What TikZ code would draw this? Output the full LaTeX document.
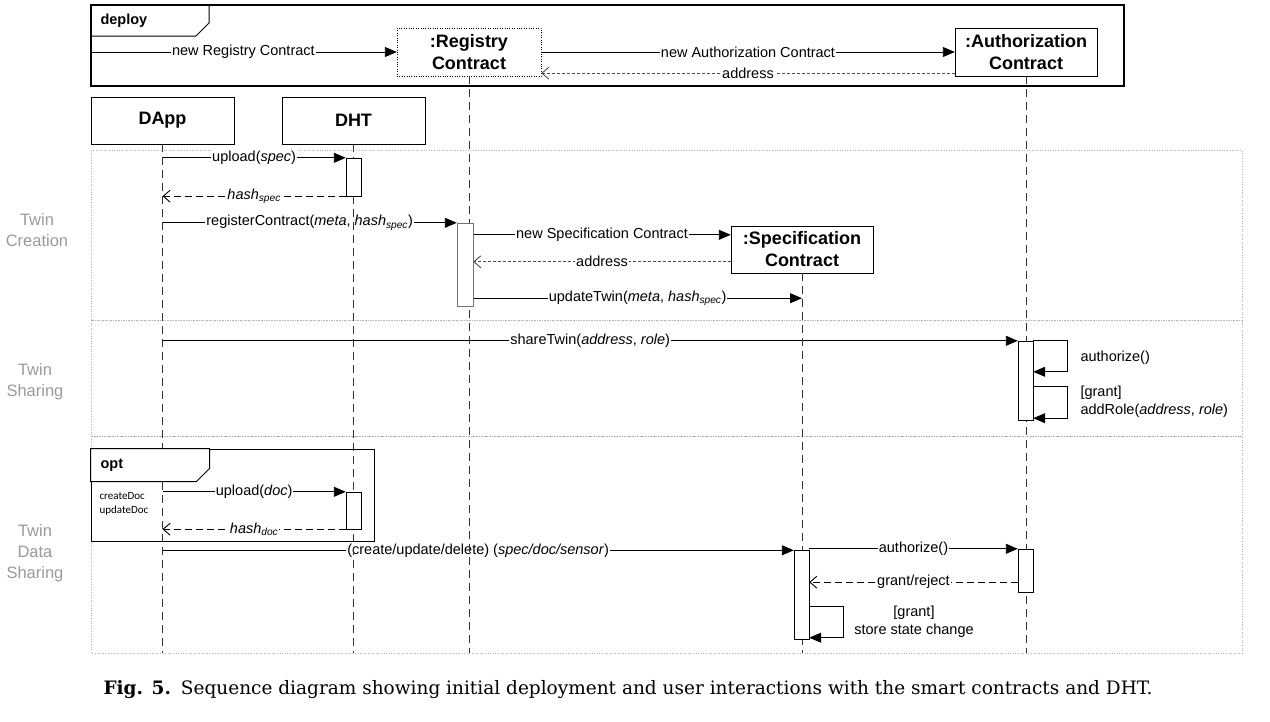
\documentclass[tikz,border=0pt]{standalone}
\usepackage{fontspec}
\setmainfont{Liberation Sans}
\newfontfamily\captionfont{DejaVu Serif}
\newfontfamily\guardfont{Carlito}
\usepackage{tikz}
\usetikzlibrary{shapes,arrows.meta,positioning,calc}
\pgfdeclarelayer{front}
\pgfsetlayers{main,front}

\begin{document}
\begin{tikzpicture}[
    x=1pt, y=-1pt,
    font=\fontsize{14.5}{18}\selectfont,
    lifebox/.style={rectangle, draw, fill=white, minimum width=143pt, minimum height=47pt, inner sep=0pt, align=center, font=\fontsize{18}{22}\selectfont\bfseries},
    activation/.style={rectangle, draw, fill=white, minimum width=15pt, inner sep=0pt},
    region/.style={draw=black!30, dotted, line width=0.6pt},
    zone/.style={text=black!40, align=center, font=\fontsize{16.5}{21}\selectfont},
    lifeline/.style={draw=black!80, dash pattern=on 8pt off 5pt, line width=0.9pt},
    msg/.style={-{Triangle[length=12pt,width=10pt]}, line width=0.9pt},
    ret/.style={-{Straight Barb[length=7pt,width=12pt]}, dash pattern=on 7pt off 4pt, line width=0.9pt},
    finer/.style={draw=black!70, dash pattern=on 3pt off 2pt},
    lbl/.style={fill=white, inner sep=1pt},
    tag/.style={anchor=west, font=\fontsize{14.5}{18}\selectfont\bfseries},
    frametab/.style={draw, fill=white, line width=1pt}
]
\useasboundingbox (0,0) rectangle (1270,721);

% Phases
\draw[region] (91,150) rectangle (1242,320);
\draw[region] (91,320) rectangle (1242,436);
\draw[region] (91,436) rectangle (1242,653);
\node[zone] (zone_creation) at (37,230) {Twin\\Creation};
\node[zone] (zone_sharing) at (35,382) {Twin\\Sharing};
\node[zone] (zone_data) at (35,553) {Twin\\Data\\Sharing};

% Deploy frame
\node[draw, line width=2pt, minimum width=1033pt, minimum height=81pt, inner sep=0pt] (deploy_frame) at (607.5,45.5) {};
\draw[line width=1pt] (deploy_frame.north west) ++(0,32) -- ++(106,0) -- ++(13,-13) -- ++(0,-19);
\node[tag] (deploy_tag) at (97,21) {deploy};

% Contracts
\node[lifebox, dotted, minimum width=144pt, minimum height=48pt] (reg_contract) at (469,52) {:Registry\\Contract};
\node[lifebox, minimum width=142pt, minimum height=48pt] (auth_contract) at (1026,52) {:Authorization\\Contract};
\node[lifebox, minimum width=142pt] (spec_contract) at (802,249.5) {:Specification\\Contract};

% Participants
\node[lifebox] (dapp) at (162.5,120.5) {DApp};
\node[lifebox] (dht) at (353.5,120.5) {DHT};

% Activations
\begin{pgfonlayer}{front}
\node[activation, minimum height=38pt] (act_dht1) at (353.5,177) {};
\node[activation, minimum width=16pt, minimum height=83pt, draw=black!55] (act_reg) at (465,264.5) {};
\node[activation, minimum height=79pt] (act_auth1) at (1025.5,380.5) {};
\node[activation, minimum height=37pt] (act_dht2) at (353.5,510.5) {};
\node[activation, minimum height=89pt] (act_spec) at (801.5,595) {};
\node[activation, minimum height=43pt] (act_auth2) at (1025.5,570.5) {};
\end{pgfonlayer}

% Deployment
\draw[msg] (deploy_frame.west |- reg_contract.west) -- node[lbl]{new Registry Contract} (reg_contract.west);
\draw[msg] (reg_contract.east) -- node[lbl]{new Authorization Contract} (auth_contract.west);
\coordinate (auth_ret) at ($(auth_contract.south west)+(0,-3)$);
\draw[ret, finer] (auth_ret) -- node[lbl]{address} (reg_contract.east |- auth_ret);

% Twin creation
\draw[msg] (dapp.south |- act_dht1.north west) -- node[lbl]{upload(\textit{spec})} (act_dht1.north west);
\draw[ret] (act_dht1.south west) -- node[lbl]{\textit{hash}\textsubscript{\textit{spec}}} (dapp.south |- act_dht1.south west);
\draw[msg] (dapp.south |- act_reg.north west) -- node[lbl]{registerContract(\textit{meta}, \textit{hash}\textsubscript{\textit{spec}})} (act_reg.north west);
\coordinate (spec_in) at ($(spec_contract.north west)+(0,9)$);
\draw[msg] (act_reg.east |- spec_in) -- node[lbl]{new Specification Contract} (spec_in);
\coordinate (spec_out) at ($(spec_contract.north west)+(0,36)$);
\draw[ret, finer] (spec_out) -- node[lbl]{address} (act_reg.east |- spec_out);
\coordinate (upd_from) at ($(act_reg.south east)+(0,-8)$);
\draw[msg] (upd_from) -- node[lbl]{updateTwin(\textit{meta}, \textit{hash}\textsubscript{\textit{spec}})} (spec_contract.south |- upd_from);

% Twin sharing
\draw[msg] (dapp.south |- act_auth1.north west) -- node[lbl]{shareTwin(\textit{address}, \textit{role})} (act_auth1.north west);
\draw[msg] (act_auth1.north east) -- ++(34,0) |- ($(act_auth1.north east)+(0,31)$);
\node[anchor=west] (authorize_lbl) at (1077,358) {authorize()};
\draw[msg] ($(act_auth1.south east)+(0,-34)$) -- ++(34,0) |- ($(act_auth1.south east)+(0,-2)$);
\node[anchor=west, align=left] (addrole_lbl) at (1077,402) {[grant]\\addRole(\textit{address}, \textit{role})};

% Twin data sharing
\draw[msg] (dapp.south |- act_dht2.north west) -- node[lbl]{upload(\textit{doc})} (act_dht2.north west);
\draw[ret] (act_dht2.south west) -- node[lbl]{\textit{hash}\textsubscript{\textit{doc}}} (dapp.south |- act_dht2.south west);
\draw[msg] (dapp.south |- act_spec.north west) -- node[lbl]{(create/update/delete) (\textit{spec/doc/sensor})} (act_spec.north west);
\draw[msg] (act_spec.east |- act_auth2.north west) -- node[lbl]{authorize()} (act_auth2.north west);
\coordinate (grant_from) at ($(act_auth2.south west)+(0,-10)$);
\draw[ret] (grant_from) -- node[lbl]{grant/reject} (act_spec.east |- grant_from);
\draw[msg] ($(act_spec.south east)+(0,-33)$) -- ++(34,0) |- ($(act_spec.south east)+(0,-2)$);
\node[align=center] (store_lbl) at (914,622) {[grant]\\store state change};

% Lifelines
\coordinate (life_end) at (0,653);
\draw[lifeline] (dapp.south) -- (dapp.south |- life_end);
\draw[lifeline] (dht.south) -- (dht.south |- life_end);
\draw[lifeline] (reg_contract.south) -- (reg_contract.south |- life_end);
\draw[lifeline] (spec_contract.south) -- (spec_contract.south |- life_end);
\draw[lifeline] (auth_contract.south) -- (auth_contract.south |- life_end);

% Optional fragment
\begin{pgfonlayer}{front}
\node[draw, line width=1pt, minimum width=283pt, minimum height=92pt, inner sep=0pt] (opt_frame) at (232.5,495) {};
\path[frametab] (opt_frame.north west) -- ++(0,33) -- ++(106,0) -- ++(13,-13) -- ++(0,-20) -- cycle;
\node[tag] (opt_tag) at (97,465) {opt};
\node[anchor=north west, align=left, font=\guardfont\fontsize{11}{14}\selectfont] (opt_guard) at (96,489) {createDoc\\updateDoc};
\end{pgfonlayer}

% Caption
\node[anchor=west, font=\captionfont\fontsize{18.5}{22}\selectfont] (caption) at (100,690) {\textbf{Fig. 5.}\hspace{10pt}Sequence diagram showing initial deployment and user interactions with the smart contracts and DHT.};

\end{tikzpicture}
\end{document}
